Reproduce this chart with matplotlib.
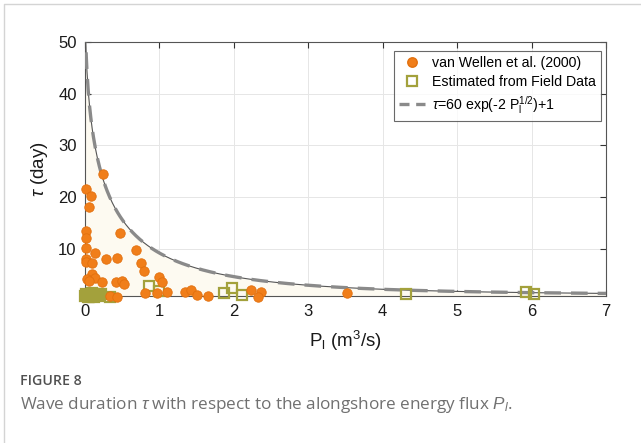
import numpy as np
import matplotlib
matplotlib.use("Agg")
import matplotlib.pyplot as plt
from matplotlib.lines import Line2D

plt.rcParams['font.family'] = ['Liberation Sans', 'DejaVu Sans']
plt.rcParams['mathtext.fontset'] = 'custom'
plt.rcParams['mathtext.rm'] = 'Liberation Sans'
plt.rcParams['mathtext.it'] = 'Liberation Sans:italic'

# van Wellen et al. (2000)
wellen_p = [0.245, 0.007, 0.087, 0.05, 0.007, 0.47, 0.01, 0.007, 0.14, 0.68,
            0.007, 0.02, 0.097, 0.276, 0.43, 0.75, 0.79, 0.10, 0.03, 0.14,
            0.23, 0.41, 0.50, 0.52, 0.99, 1.04, 0.81, 0.97, 1.10, 0.34,
            0.43, 1.35, 1.42, 1.50, 1.65, 2.23, 2.36, 2.32, 3.52, 0.06]
wellen_tau = [24.4, 21.6, 20.2, 18.1, 13.3, 13.1, 12.0, 10.1, 9.1, 9.7,
              8.0, 7.3, 7.2, 7.9, 8.2, 7.1, 5.6, 5.1, 4.0, 4.2,
              3.5, 3.5, 3.8, 3.2, 4.4, 3.5, 1.3, 1.3, 1.6, 0.8,
              0.7, 1.5, 2.0, 0.9, 0.8, 1.9, 1.6, 0.6, 1.4, 3.8]

# estimated from field data
field_p = [0.0, 0.02, 0.05, 0.08, 0.10, 0.13, 0.16, 0.19, 0.22, 0.04, 0.12, 0.33,
           0.86, 1.0, 1.87, 1.97, 2.11, 4.31, 5.92, 6.03]
field_tau = [0.8, 1.2, 0.7, 1.0, 1.4, 0.9, 1.2, 0.8, 1.1, 0.6, 0.6, 0.7,
             2.7, 1.8, 1.3, 2.3, 1.0, 1.2, 1.6, 1.1]

# fitted envelope tau = a*exp(b*sqrt(P)) + c
fit_a, fit_b, fit_c = 60, -2, 1

fig = plt.figure(figsize=(6.41, 4.43), dpi=100)
ax = fig.add_axes([85/641, 1-296/443, (606-85)/641, (296-42)/443])

p_fit = np.linspace(0, 7, 800)
tau_fit = fit_a*np.exp(fit_b*np.sqrt(p_fit)) + fit_c
ax.fill_between(p_fit, 0, np.minimum(tau_fit, 50), color='#fdfaf1', zorder=1, lw=0)
ax.plot(p_fit, tau_fit, color='#555555', lw=0.8, zorder=2)
ax.plot(p_fit, tau_fit, color='#8a8a8a', lw=2.4, ls=(0, (5, 3)), zorder=3)

ax.plot(wellen_p, wellen_tau, 'o', ms=6.8, mfc='#f07e1a', mec='#e2700e', mew=0.6,
        zorder=5, clip_on=False)
ax.plot(field_p, field_tau, 's', ms=6.6, mfc='none', mec='#a3a13c', mew=1.6,
        zorder=4, clip_on=False)

ax.set_xlim(0, 7)
ax.set_ylim(0.8, 50)
ax.set_xticks(range(0, 8))
ax.set_yticks([10, 20, 30, 40, 50])
ax.grid(True, color='#e6e6e6', lw=0.7)
ax.set_axisbelow(True)
ax.tick_params(direction='in', top=True, right=True, length=4, width=0.8,
               color='#333333', labelsize=12, labelcolor='#1a1a1a', pad=6)
for s in ax.spines.values():
    s.set_color('#555555')
    s.set_linewidth(0.8)

ax.set_xlabel('P$_\\mathrm{l}$ (m$^3$/s)', fontsize=13.5, color='#1a1a1a', labelpad=7)
ax.set_ylabel('$\\tau$ (day)', fontsize=13.5, color='#1a1a1a', labelpad=6)

handles = [
    Line2D([], [], ls='none', marker='o', ms=6.8, mfc='#f07e1a', mec='#e2700e'),
    Line2D([], [], ls='none', marker='s', ms=6.6, mfc='none', mec='#a3a13c', mew=1.6),
    Line2D([], [], color='#8a8a8a', lw=2.4, ls=(0, (3, 2))),
]
labels = ['van Wellen et al. (2000)', 'Estimated from Field Data',
          '$\\tau$=60 exp(-2 P$_\\mathrm{l}^{1/2}$)+1']
leg = ax.legend(handles, labels, loc='upper right', bbox_to_anchor=(0.99, 0.965),
                fontsize=10.2, frameon=True, fancybox=False, edgecolor='#444444',
                handlelength=1.8, handletextpad=0.5, borderpad=0.35, labelspacing=0.35,
                borderaxespad=0)
leg.get_frame().set_linewidth(0.8)

# card border
fig.add_artist(Line2D([4/641, 4/641, 1], [0, 1-4/443, 1-4/443],
                      transform=fig.transFigure, color='#d4d4d4', lw=1))

fig.text(20/641, 1-381/443, 'FIGURE 8', fontsize=10.2, color='#505050',
         family=['Open Sans', 'DejaVu Sans'], weight='semibold', va='center')
fig.text(20/641, 1-405/443,
         'Wave duration $\\tau$ with respect to the alongshore energy flux $P_l$.',
         fontsize=12.3, color='#707070', family=['Open Sans', 'DejaVu Sans'],
         va='center')

fig.savefig('out.png', dpi=100)
